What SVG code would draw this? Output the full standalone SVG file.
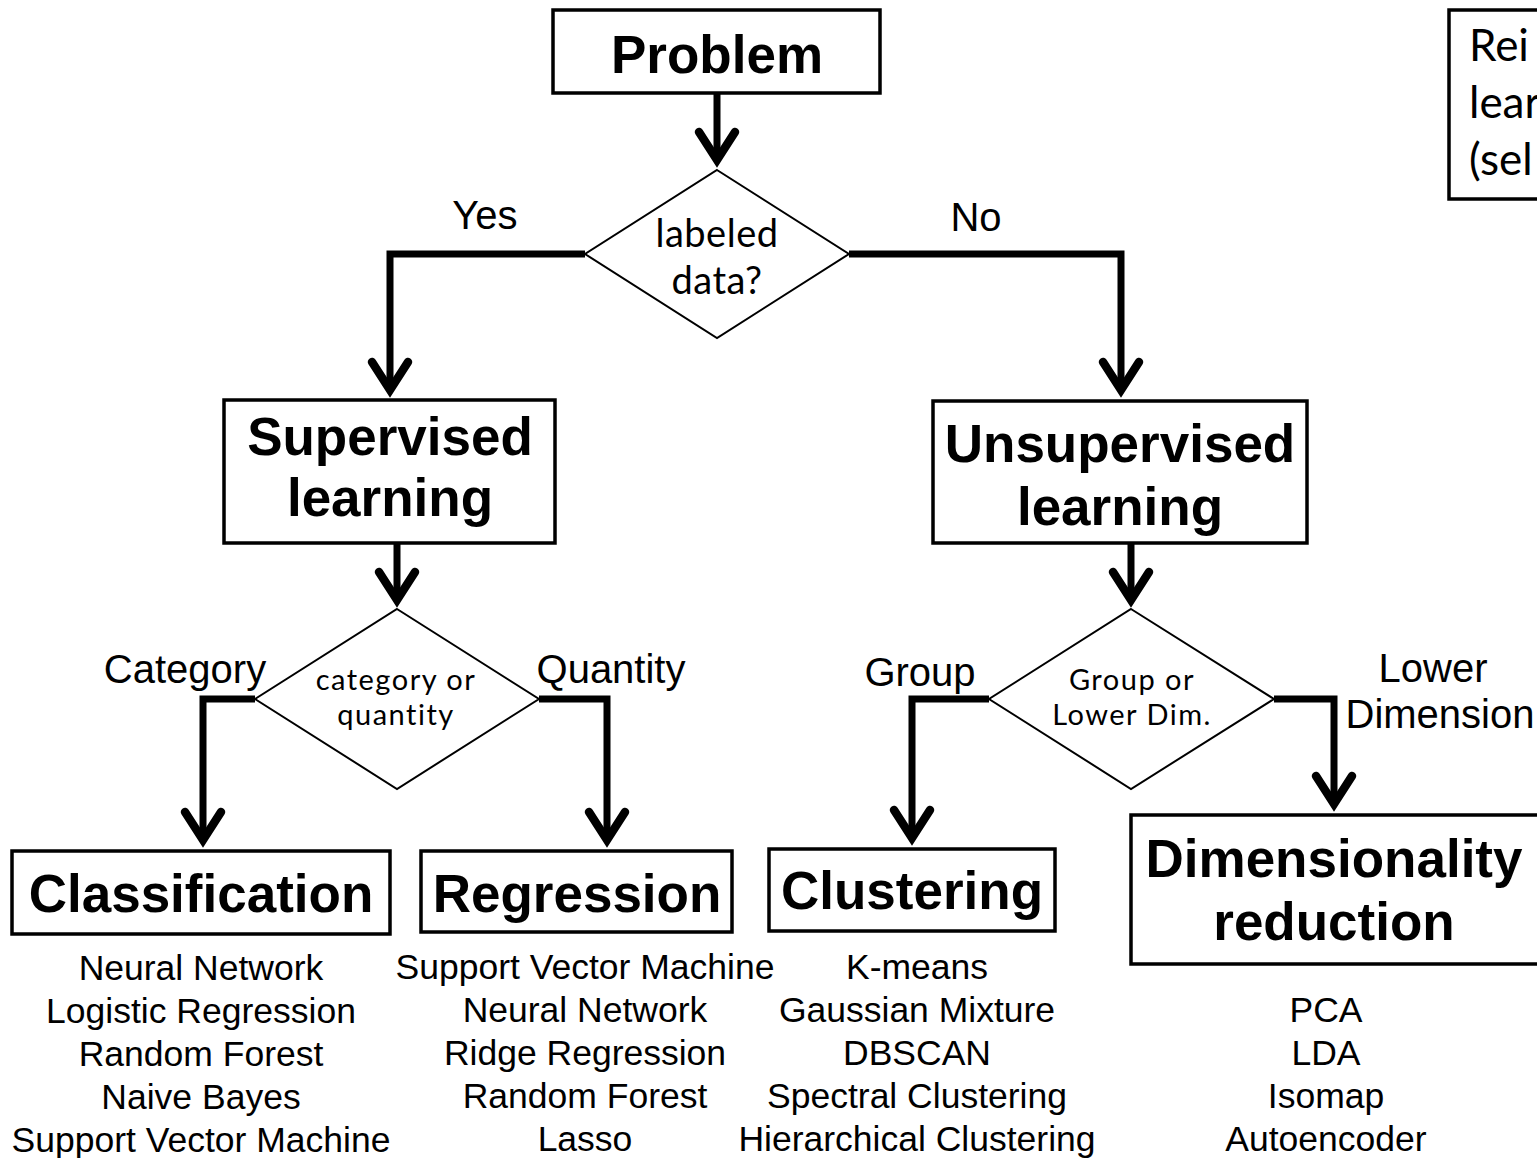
<svg xmlns="http://www.w3.org/2000/svg" width="1537" height="1158" viewBox="0 0 1537 1158">
<style>
.box{fill:#fff;stroke:#000;stroke-width:3.5}
.dia{fill:#fff;stroke:#000;stroke-width:2}
.conn{fill:none;stroke:#000;stroke-width:7;stroke-linejoin:miter}
.title{font-family:"Liberation Sans",Arial,sans-serif;font-weight:bold;font-size:53px;text-anchor:middle;fill:#000}
.q{font-family:Lato,"Open Sans",sans-serif;text-anchor:middle;fill:#000}
.qs{font-size:29px;letter-spacing:1.5px}
.lbl{font-family:"Liberation Sans",Arial,sans-serif;font-size:40px;text-anchor:middle;fill:#000}
.item{font-family:"Liberation Sans",Arial,sans-serif;font-size:35.5px;text-anchor:middle;fill:#000}
.rl{font-family:Lato,"Open Sans",sans-serif;font-size:44px;fill:#000}
</style>
<defs>
<marker id="chev" markerUnits="userSpaceOnUse" markerWidth="60" markerHeight="60" viewBox="-40 -30 60 60" refX="0" refY="0" orient="auto" overflow="visible">
<path d="M-28,-18 L0,0 L-28,18" fill="none" stroke="#000" stroke-width="8.5" stroke-linecap="round" stroke-linejoin="miter" stroke-miterlimit="10"/>
</marker>
</defs>
<rect width="1537" height="1158" fill="#fff"/>

<g id="connectors">
<path class="conn" d="M717,93 V160" marker-end="url(#chev)"/>
<path class="conn" d="M585,254 H390 V390" marker-end="url(#chev)"/>
<path class="conn" d="M849,254 H1121 V390" marker-end="url(#chev)"/>
<path class="conn" d="M397,543 V600" marker-end="url(#chev)"/>
<path class="conn" d="M1131,543 V600" marker-end="url(#chev)"/>
<path class="conn" d="M255,699 H203 V840" marker-end="url(#chev)"/>
<path class="conn" d="M539,699 H607 V840" marker-end="url(#chev)"/>
<path class="conn" d="M989,699 H912 V838" marker-end="url(#chev)"/>
<path class="conn" d="M1274,699 H1334 V804" marker-end="url(#chev)"/>
<text class="lbl" x="485" y="229">Yes</text>
<text class="lbl" x="976" y="231">No</text>
<text class="lbl" x="185" y="683">Category</text>
<text class="lbl" x="611" y="683">Quantity</text>
<text class="lbl" x="920" y="686">Group</text>
<text class="lbl" x="1433" y="682">Lower</text>
<text class="lbl" x="1440" y="728">Dimension</text>
</g>

<g id="problem">
<rect class="box" x="553" y="10" width="327" height="83"/>
<text class="title" x="717" y="73">Problem</text>
</g>

<g id="labeled-data">
<polygon class="dia" points="717,170 849,254 717,338 585,254"/>
<text class="q" font-size="38" letter-spacing="0.5" x="717" y="247">labeled<tspan x="717" dy="47">data?</tspan></text>
</g>

<g id="supervised">
<rect class="box" x="224" y="400" width="331" height="143"/>
<text class="title" x="390" y="455">Supervised<tspan x="390" dy="61">learning</tspan></text>
</g>

<g id="unsupervised">
<rect class="box" x="933" y="401" width="374" height="142"/>
<text class="title" x="1120" y="462">Unsupervised<tspan x="1120" dy="63">learning</tspan></text>
</g>

<g id="category-or-quantity">
<polygon class="dia" points="397,609 539,699 397,789 255,699"/>
<text class="q qs" x="396" y="690">category or<tspan x="396" dy="35">quantity</tspan></text>
</g>

<g id="group-or-lower">
<polygon class="dia" points="1131,609 1274,699 1131,789 989,699"/>
<text class="q qs" x="1132" y="690">Group or<tspan x="1132" dy="35">Lower Dim.</tspan></text>
</g>

<g id="classification">
<rect class="box" x="12" y="851" width="378" height="83"/>
<text class="title" x="201" y="912">Classification</text>
<text class="item" x="201" y="980">Neural Network</text>
<text class="item" x="201" y="1023">Logistic Regression</text>
<text class="item" x="201" y="1066">Random Forest</text>
<text class="item" x="201" y="1109">Naive Bayes</text>
<text class="item" x="201" y="1152">Support Vector Machine</text>
</g>

<g id="regression">
<rect class="box" x="421" y="851" width="311" height="81"/>
<text class="title" x="577" y="912">Regression</text>
<text class="item" x="585" y="979">Support Vector Machine</text>
<text class="item" x="585" y="1022">Neural Network</text>
<text class="item" x="585" y="1065">Ridge Regression</text>
<text class="item" x="585" y="1108">Random Forest</text>
<text class="item" x="585" y="1151">Lasso</text>
</g>

<g id="clustering">
<rect class="box" x="769" y="849" width="286" height="82"/>
<text class="title" x="912" y="909">Clustering</text>
<text class="item" x="917" y="979">K-means</text>
<text class="item" x="917" y="1022">Gaussian Mixture</text>
<text class="item" x="917" y="1065">DBSCAN</text>
<text class="item" x="917" y="1108">Spectral Clustering</text>
<text class="item" x="917" y="1151">Hierarchical Clustering</text>
</g>

<g id="dimensionality-reduction">
<rect class="box" x="1131" y="815" width="412" height="149"/>
<text class="title" x="1334" y="877">Dimensionality<tspan x="1334" dy="63">reduction</tspan></text>
<text class="item" x="1326" y="1022">PCA</text>
<text class="item" x="1326" y="1065">LDA</text>
<text class="item" x="1326" y="1108">Isomap</text>
<text class="item" x="1326" y="1151">Autoencoder</text>
</g>

<g id="reinforcement">
<rect class="box" x="1449" y="10" width="100" height="189"/>
<text class="rl" x="1469" y="61">Rei<tspan x="1469" dy="57">lear</tspan><tspan x="1469" dy="57">(sel</tspan></text>
</g>
</svg>
